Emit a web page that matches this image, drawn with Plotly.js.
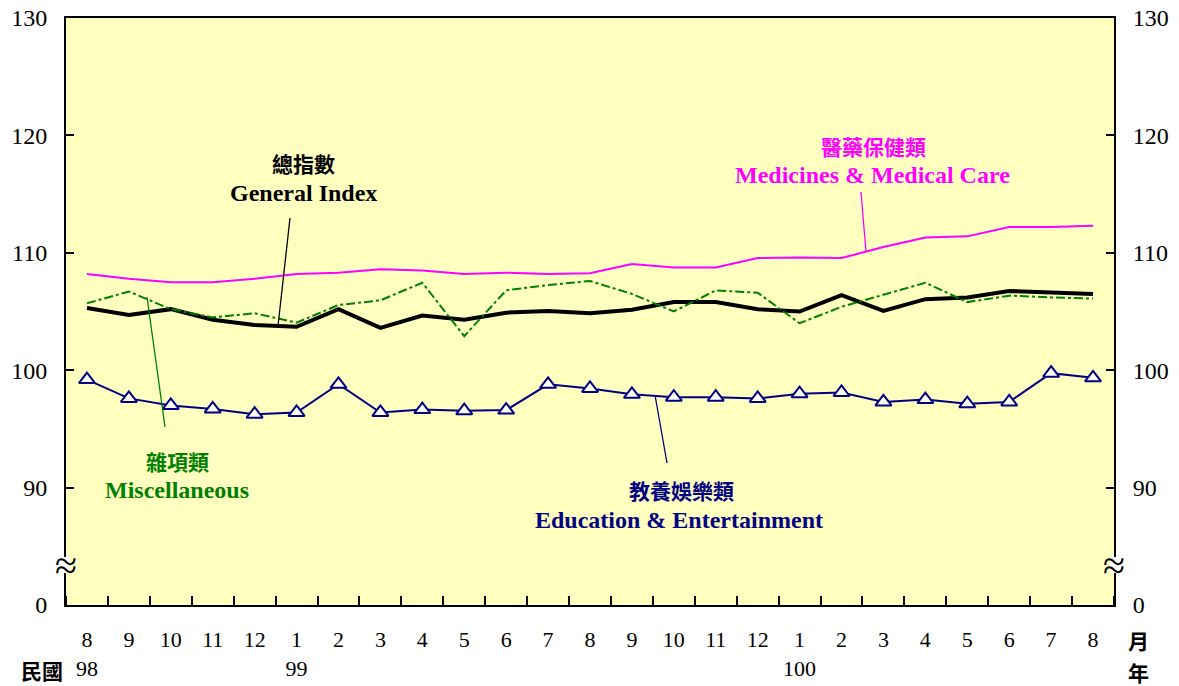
<!DOCTYPE html>
<html>
<head>
<meta charset="utf-8">
<script src="https://cdn.plot.ly/plotly-3.0.1.min.js"></script>
<style>html,body{margin:0;padding:0;background:#fff;}#chart{width:1179px;height:686px;}</style>
</head>
<body>
<div id="chart"></div>
<script>
// Months: 98/8 .. 100/8
const months = ['8','9','10','11','12','1','2','3','4','5','6','7','8','9','10','11','12','1','2','3','4','5','6','7','8'];
const years = {0:'98', 5:'99', 17:'100'};
const generalIndex = [105.3,104.7,105.2,104.3,103.85,103.7,105.2,103.6,104.65,104.3,104.9,105.05,104.85,105.15,105.8,105.8,105.2,105.0,106.4,105.05,106.05,106.2,106.75,106.65,106.5];
const medicines = [108.2,107.8,107.5,107.5,107.8,108.2,108.3,108.6,108.5,108.2,108.3,108.2,108.25,109.05,108.75,108.75,109.55,109.6,109.55,110.5,111.3,111.4,112.2,112.2,112.3];
const miscellaneous = [105.7,106.7,105.2,104.5,104.85,104.05,105.55,105.95,107.45,102.9,106.8,107.25,107.6,106.5,105.0,106.8,106.6,104.0,105.4,106.4,107.45,105.8,106.35,106.2,106.1];
const education = [99.2,97.6,97.0,96.7,96.25,96.4,98.8,96.4,96.65,96.55,96.6,98.8,98.45,97.95,97.7,97.7,97.6,98.0,98.1,97.3,97.5,97.15,97.3,99.75,99.35];
const yTickVals = [80,90,100,110,120,130];
const yTickText = ['0','90','100','110','120','130'];

const xIdx = months.map((m,i)=>i);
const xText = months.map((m,i)=> years[i] ? m + '<br>' + years[i] : m);

const serif = '"Times New Roman", "Liberation Serif", serif';
const cjk = '"Noto Sans CJK TC", "Noto Sans CJK SC", sans-serif';

const traces = [
  {x:xIdx, y:medicines, type:'scatter', mode:'lines', line:{color:'#FF00FF', width:2}, hoverinfo:'skip'},
  {x:xIdx, y:generalIndex, type:'scatter', mode:'lines', line:{color:'#000000', width:4}, hoverinfo:'skip'},
  {x:xIdx, y:miscellaneous, type:'scatter', mode:'lines', line:{color:'#008000', width:2, dash:'dashdot'}, hoverinfo:'skip'},
  {x:xIdx, y:education, type:'scatter', mode:'lines+markers', yaxis:'y2', line:{color:'#000080', width:2},
   marker:{symbol:'triangle-up', size:14, color:'#FFFFFF', line:{color:'#000080', width:2}}, hoverinfo:'skip'}
];

// pixel helpers for annotation placement
const L=66, R=1114, T=18, B=605;
const px = x => (x-L)/(R-L);
const py = y => (B-y)/(B-T);

function ann(text, x, y, color, font, size) {
  return {text:text, xref:'paper', yref:'paper', x:px(x), y:py(y), xanchor:'center', yanchor:'middle',
          showarrow:false, font:{family:font, size:size, color:color}};
}

const annotations = [
  ann('<b>總指數</b>', 303, 163, '#000000', cjk, 21),
  ann('<b>General Index</b>', 303, 193, '#000000', serif, 24),
  ann('<b>醫藥保健類</b>', 873, 146, '#FF00FF', cjk, 21),
  ann('<b>Medicines &amp; Medical Care</b>', 872, 175, '#FF00FF', serif, 24),
  ann('<b>雜項類</b>', 177, 461, '#008000', cjk, 21),
  ann('<b>Miscellaneous</b>', 177, 490, '#008000', serif, 24),
  ann('<b>教養娛樂類</b>', 681, 490, '#000080', cjk, 21),
  ann('<b>Education &amp; Entertainment</b>', 679, 520, '#000080', serif, 24),
  ann('<b>民國</b>', 42, 670, '#000000', cjk, 21),
  ann('<b>月</b>', 1138, 640, '#000000', cjk, 21),
  ann('<b>年</b>', 1138, 672, '#000000', cjk, 21),
  {text:'≈', xref:'paper', yref:'paper', x:px(L), y:py(565), xanchor:'center', yanchor:'middle', showarrow:false,
   font:{family:serif, size:40, color:'#000000'}},
  {text:'≈', xref:'paper', yref:'paper', x:px(R), y:py(565), xanchor:'center', yanchor:'middle', showarrow:false,
   font:{family:serif, size:40, color:'#000000'}}
];

const shapes = [
  // axis-break gaps
  {type:'rect', xref:'paper', yref:'paper', x0:px(L-4), x1:px(L+4), y0:py(573), y1:py(557), fillcolor:'#FFFFFF', line:{width:0}, layer:'above'},
  {type:'rect', xref:'paper', yref:'paper', x0:px(R-4), x1:px(R+4), y0:py(573), y1:py(557), fillcolor:'#FFFFFF', line:{width:0}, layer:'above'},
  // leader lines
  {type:'line', xref:'paper', yref:'paper', x0:px(290), y0:py(218), x1:px(278), y1:py(326), line:{color:'#000000', width:1.3}},
  {type:'line', xref:'paper', yref:'paper', x0:px(861), y0:py(192), x1:px(866), y1:py(252), line:{color:'#FF00FF', width:1.3}},
  {type:'line', xref:'paper', yref:'paper', x0:px(147), y0:py(297), x1:px(165), y1:py(427), line:{color:'#008000', width:1.3}},
  {type:'line', xref:'paper', yref:'paper', x0:px(655), y0:py(395), x1:px(667), y1:py(463), line:{color:'#000080', width:1.3}}
];

const minorVals = [];
for (let i=0;i<=months.length;i++) minorVals.push(i-0.5);

const yCommon = {
  range:[80,130], tickmode:'array', tickvals:yTickVals, ticktext:yTickText,
  ticks:'inside', ticklen:8, tickwidth:2, tickcolor:'#000000',
  showline:true, linecolor:'#000000', linewidth:2, showgrid:false, zeroline:false,
  tickfont:{family:serif, size:24, color:'#000000'}, ticklabelstandoff:12, fixedrange:true
};

const layout = {
  width:1179, height:686,
  margin:{l:L, r:1179-R, t:T, b:686-B},
  paper_bgcolor:'#FFFFFF', plot_bgcolor:'#FFFFC0',
  showlegend:false,
  xaxis:{
    range:[-0.5, months.length-0.5], tickmode:'array', tickvals:xIdx, ticktext:xText,
    ticks:'', showline:true, mirror:true, linecolor:'#000000', linewidth:2,
    showgrid:false, zeroline:false, ticklabelstandoff:14,
    tickfont:{family:serif, size:22, color:'#000000'},
    minor:{tickmode:'array', tickvals:minorVals, ticks:'inside', ticklen:9, tickwidth:2, tickcolor:'#000000', showgrid:false}
  },
  yaxis: Object.assign({side:'left'}, yCommon),
  yaxis2: Object.assign({side:'right', overlaying:'y'}, yCommon),
  annotations:annotations,
  shapes:shapes
};

Plotly.newPlot('chart', traces, layout, {staticPlot:true, displayModeBar:false});
</script>
</body>
</html>
